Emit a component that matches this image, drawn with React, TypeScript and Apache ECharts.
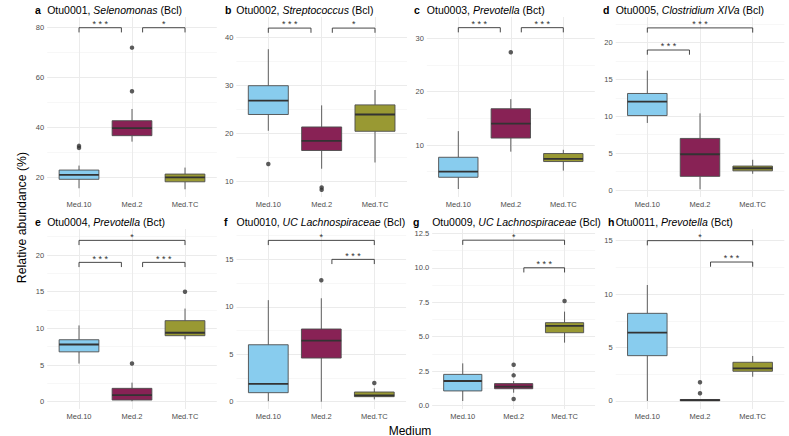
import React, { useEffect, useRef } from "react";
import * as echarts from "echarts";

const groups = ["Med.10", "Med.2", "Med.TC"];
const fills = ["#88CCEE", "#882255", "#999933"];
const tags = ["a", "b", "c", "d", "e", "f", "g", "h"];
const titles = [
  "Otu0001, {i|Selenomonas} (Bcl)",
  "Otu0002, {i|Streptococcus} (Bcl)",
  "Otu0003, {i|Prevotella} (Bct)",
  "Otu0005, {i|Clostridium XIVa} (Bcl)",
  "Otu0004, {i|Prevotella} (Bct)",
  "Otu0010, {i|UC Lachnospiraceae} (Bcl)",
  "Otu0009, {i|UC Lachnospiraceae} (Bcl)",
  "Otu0011, {i|Prevotella} (Bct)",
];

// [min, Q1, median, Q3, max] per group (Med.10, Med.2, Med.TC)
const boxesA = [[15.6, 19.2, 21.0, 22.9, 24.7], [34.3, 36.7, 39.7, 42.7, 47.4], [15.2, 18.2, 20.0, 21.3, 23.9]];
const boxesB = [[20.6, 24.0, 26.9, 30.0, 37.6], [12.7, 16.5, 18.5, 21.4, 25.9], [14.0, 20.5, 24.0, 26.0, 29.1]];
const boxesC = [[1.75, 3.95, 5.0, 7.7, 12.6], [8.75, 11.3, 14.0, 16.8, 18.6], [5.2, 6.9, 7.4, 8.4, 9.1]];
const boxesD = [[9.1, 10.1, 12.0, 13.1, 16.2], [0.1, 1.85, 4.85, 7.0, 10.4], [2.2, 2.6, 2.95, 3.25, 4.1]];
const boxesE = [[5.2, 6.8, 7.8, 8.45, 10.4], [0.05, 0.23, 0.9, 1.82, 2.6], [8.5, 9.0, 9.4, 11.05, 12.7]];
const boxesF = [[0.05, 0.95, 1.87, 6.0, 10.7], [0.0, 4.6, 6.43, 7.66, 10.9], [0.25, 0.53, 0.67, 1.02, 1.41]];
const boxesG = [[0.34, 1.07, 1.79, 2.27, 3.07], [0.94, 1.23, 1.38, 1.6, 1.79], [4.57, 5.29, 5.78, 6.02, 6.82]];
const boxesH = [[0.0, 4.24, 6.39, 8.2, 10.85], [0.0, 0.02, 0.08, 0.14, 0.16], [2.27, 2.78, 3.06, 3.62, 4.21]];

// outliers: [group index, value]
const outliersA = [[0, 32.6], [0, 31.8], [1, 72.0], [1, 54.5]];
const outliersB = [[0, 13.7], [1, 8.8], [1, 8.3]];
const outliersC = [[1, 27.4]];
const outliersD: number[][] = [];
const outliersE = [[1, 5.2], [2, 15.0]];
const outliersF = [[1, 12.8], [2, 1.97]];
const outliersG = [[1, 2.97], [1, 2.2], [1, 0.49], [2, 7.59]];
const outliersH = [[1, 1.75], [1, 0.72]];

// significance brackets: [from, to, level]
const bracketsA = [[0, 0.8, 80], [1.2, 2, 80]];
const bracketsB = [[0, 0.8, 42], [1.2, 2, 42]];
const bracketsC = [[0, 0.8, 32], [1.2, 2, 32]];
const bracketsD = [[0, 0.8, 19], [0, 2, 22]];
const bracketsE = [[0, 0.8, 19], [1.2, 2, 19], [0, 2, 22]];
const bracketsF = [[1.2, 2, 15], [0, 2, 17]];
const bracketsG = [[1.2, 2, 10], [0, 2, 12]];
const bracketsH = [[1.2, 2, 13], [0, 2, 15]];
const starsA = ["***", "*"];
const starsB = ["***", "*"];
const starsC = ["***", "***"];
const starsD = ["***", "***"];
const starsE = ["***", "***", "*"];
const starsF = ["***", "*"];
const starsG = ["***", "*"];
const starsH = ["***", "*"];

// tick labels
const ticksA = [20, 40, 60, 80];
const ticksB = [10, 20, 30, 40];
const ticksC = [10, 20, 30];
const ticksD = [0, 5, 10, 15, 20];
const ticksE = [0, 5, 10, 15, 20];
const ticksF = [0, 5, 10, 15];
const ticksG = [0, 2.5, 5, 7.5, 10, 12.5];
const ticksH = [0, 5, 10, 15];
const minorA = [30, 50, 70];
const minorB = [15, 25, 35];
const minorC = [5, 15, 25];
const minorD = [2.5, 7.5, 12.5, 17.5, 22.5];
const minorE = [2.5, 7.5, 12.5, 17.5, 22.5];
const minorF = [2.5, 7.5, 12.5, 17.5];
const minorG = [1.25, 3.75, 6.25, 8.75, 11.25];
const minorH = [2.5, 7.5, 12.5];

const panels = [
  { boxes: boxesA, out: outliersA, br: bracketsA, st: starsA, ticks: ticksA, minor: minorA, dec: 0 },
  { boxes: boxesB, out: outliersB, br: bracketsB, st: starsB, ticks: ticksB, minor: minorB, dec: 0 },
  { boxes: boxesC, out: outliersC, br: bracketsC, st: starsC, ticks: ticksC, minor: minorC, dec: 0 },
  { boxes: boxesD, out: outliersD, br: bracketsD, st: starsD, ticks: ticksD, minor: minorD, dec: 0 },
  { boxes: boxesE, out: outliersE, br: bracketsE, st: starsE, ticks: ticksE, minor: minorE, dec: 0 },
  { boxes: boxesF, out: outliersF, br: bracketsF, st: starsF, ticks: ticksF, minor: minorF, dec: 0 },
  { boxes: boxesG, out: outliersG, br: bracketsG, st: starsG, ticks: ticksG, minor: minorG, dec: 1 },
  { boxes: boxesH, out: outliersH, br: bracketsH, st: starsH, ticks: ticksH, minor: minorH, dec: 0 },
];

// layout (pixels) and axis extents
const layout = [
  { left: 47.2, width: 169.6, top: 17, height: 180, min: 12.1, max: 84.3, tagX: 35 },
  { left: 236.3, width: 170.7, top: 17, height: 180, min: 6.81, max: 44.31, tagX: 225 },
  { left: 426.8, width: 168, top: 17, height: 180, min: 0.25, max: 34.0, tagX: 414 },
  { left: 615.7, width: 168.6, top: 17, height: 180, min: -0.95, max: 23.48, tagX: 603 },
  { left: 47.2, width: 169.6, top: 229, height: 180, min: -0.995, max: 23.55, tagX: 35 },
  { left: 236.5, width: 169.6, top: 229, height: 180, min: -0.77, max: 18.2, tagX: 224 },
  { left: 432.2, width: 162.9, top: 229, height: 180, min: -0.24, max: 12.81, tagX: 413 },
  { left: 615.7, width: 168.6, top: 229, height: 180, min: -0.75, max: 16.09, tagX: 608 },
];

const FONT = "'Liberation Sans', Arial, Helvetica, sans-serif";
const AXIS_TEXT = "#4D4D4D";
const GRID = "#EBEBEB";
const TITLE_SIZE = 10.5;

export default function App() {
  const ref = useRef<HTMLDivElement>(null);
  useEffect(() => {
    document.body.style.margin = "0";
    if (!ref.current) return;
    const chart = echarts.init(ref.current, undefined, { renderer: "svg" });

    const grid: any[] = [];
    const xAxis: any[] = [];
    const yAxis: any[] = [];
    const series: any[] = [];
    const graphic: any[] = [];

    panels.forEach((p, i) => {
      const L = layout[i];
      grid.push({ left: L.left, top: L.top, width: L.width, height: L.height, containLabel: false });
      xAxis.push({
        type: "value",
        gridIndex: i,
        min: -0.6,
        max: 2.6,
        axisLine: { show: false },
        axisTick: { show: false, customValues: [0, 1, 2] },
        axisLabel: {
          customValues: [0, 1, 2],
          formatter: (v: number) => groups[Math.round(v)],
          color: AXIS_TEXT,
          fontSize: 7.5,
          fontFamily: FONT,
          margin: 3,
        },
        splitLine: { show: true, lineStyle: { color: GRID, width: 1 } },
      });
      yAxis.push({
        type: "value",
        gridIndex: i,
        min: L.min,
        max: L.max,
        axisLine: { show: false },
        axisTick: { show: false, customValues: p.ticks },
        axisLabel: {
          customValues: p.ticks,
          formatter: (v: number) => v.toFixed(p.dec),
          color: AXIS_TEXT,
          fontSize: 7.5,
          fontFamily: FONT,
          margin: 3,
        },
        splitLine: { show: true, lineStyle: { color: GRID, width: 1 } },
      });
      yAxis.push({
        type: "value",
        gridIndex: i,
        min: L.min,
        max: L.max,
        position: "left",
        axisLine: { show: false },
        axisTick: { show: false, customValues: p.minor },
        axisLabel: { show: false },
        splitLine: { show: true, lineStyle: { color: "#F1F1F1", width: 0.6 } },
      });

      // boxplots
      series.push({
        type: "custom",
        xAxisIndex: i,
        yAxisIndex: 2 * i,
        encode: { x: 0, y: [1, 2, 3, 4, 5] },
        data: p.boxes.map((b, k) => [k, ...b]),
        z: 3,
        renderItem: (params: any, api: any) => {
          const x = api.value(0);
          const pLo = api.coord([x, api.value(1)]);
          const pQ1 = api.coord([x, api.value(2)]);
          const pMed = api.coord([x, api.value(3)]);
          const pQ3 = api.coord([x, api.value(4)]);
          const pHi = api.coord([x, api.value(5)]);
          const unit = api.size([1, 0])[0];
          const half = unit * 0.375;
          const cx = pLo[0];
          const stroke = "#4D4D4D";
          return {
            type: "group",
            children: [
              { type: "line", shape: { x1: cx, y1: pLo[1], x2: cx, y2: pQ1[1] }, style: { stroke, lineWidth: 0.9 } },
              { type: "line", shape: { x1: cx, y1: pQ3[1], x2: cx, y2: pHi[1] }, style: { stroke, lineWidth: 0.9 } },
              {
                type: "rect",
                shape: { x: cx - half, y: pQ3[1], width: 2 * half, height: Math.max(pQ1[1] - pQ3[1], 0.5) },
                style: { fill: fills[x], stroke, lineWidth: 0.9 },
              },
              {
                type: "line",
                shape: { x1: cx - half, y1: pMed[1], x2: cx + half, y2: pMed[1] },
                style: { stroke: "#333333", lineWidth: 1.8 },
              },
            ],
          };
        },
      });

      // outliers
      series.push({
        type: "scatter",
        xAxisIndex: i,
        yAxisIndex: 2 * i,
        data: p.out,
        symbol: "circle",
        symbolSize: 4.5,
        itemStyle: { color: "#333333" },
        z: 4,
      });

      // significance brackets
      series.push({
        type: "custom",
        xAxisIndex: i,
        yAxisIndex: 2 * i,
        encode: { x: [0, 1], y: 2 },
        data: p.br,
        z: 5,
        renderItem: (params: any, api: any) => {
          const a = api.coord([api.value(0), api.value(2)]);
          const b = api.coord([api.value(1), api.value(2)]);
          const tip = 4.7;
          const label = p.st[params.dataIndex].split("").join(" ");
          return {
            type: "group",
            children: [
              {
                type: "polyline",
                shape: { points: [[a[0], a[1] + tip], [a[0], a[1]], [b[0], b[1]], [b[0], b[1] + tip]] },
                style: { stroke: "#333333", lineWidth: 0.9, fill: "none" },
              },
              {
                type: "text",
                x: (a[0] + b[0]) / 2,
                y: a[1] - 3.6,
                style: {
                  text: label,
                  fontSize: 9,
                  fontFamily: FONT,
                  fill: "#333333",
                  align: "center",
                  verticalAlign: "middle",
                },
              },
            ],
          };
        },
      });

      // titles
      const ty = L.top - 7.5;
      graphic.push({
        type: "text",
        x: L.tagX,
        y: ty,
        style: { text: tags[i], fontSize: TITLE_SIZE, fontWeight: "bold", fontFamily: FONT, fill: "#000", verticalAlign: "middle" },
      });
      graphic.push({
        type: "text",
        x: L.left,
        y: ty,
        style: {
          text: titles[i],
          fontSize: TITLE_SIZE,
          fontFamily: FONT,
          fill: "#000",
          verticalAlign: "middle",
          rich: { i: { fontStyle: "italic", fontSize: TITLE_SIZE, fontFamily: FONT, fill: "#000" } },
        },
      });
    });

    graphic.push({
      type: "text",
      x: 21.7,
      y: 217.5,
      rotation: Math.PI / 2,
      style: {
        text: "Relative abundance (%)",
        fontSize: 12.3,
        fontFamily: FONT,
        fill: "#000",
        align: "center",
        verticalAlign: "middle",
      },
    });
    graphic.push({
      type: "text",
      x: 410,
      y: 430.5,
      style: { text: "Medium", fontSize: 12, fontFamily: FONT, fill: "#000", align: "center", verticalAlign: "middle" },
    });

    chart.setOption({
      animation: false,
      backgroundColor: "#ffffff",
      grid,
      xAxis,
      yAxis,
      series,
      graphic,
    });
    return () => chart.dispose();
  }, []);
  return <div ref={ref} style={{ width: 789, height: 436 }} />;
}
